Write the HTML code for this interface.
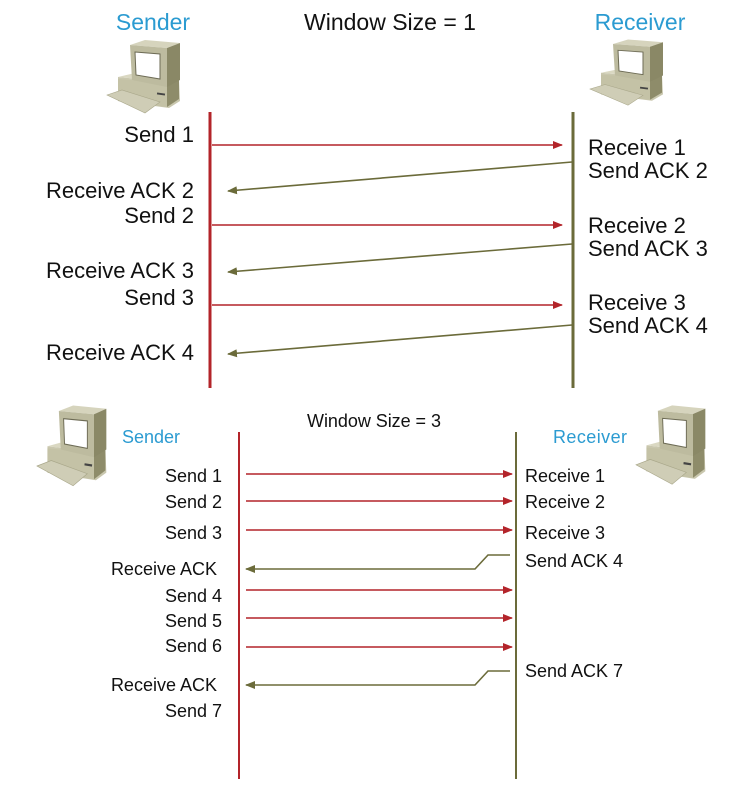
<!DOCTYPE html>
<html><head><meta charset="utf-8"><style>
html,body{margin:0;padding:0;background:#fff;}
svg{display:block;}
text{font-family:"Liberation Sans",sans-serif;}
</style></head><body>
<svg width="734" height="785" viewBox="0 0 734 785" xmlns="http://www.w3.org/2000/svg">
<defs>
<g id="pc">
  <polygon points="11,42 60,47 72,42 72,44 73,66 62,73 11,66" fill="#c9c7ae"/>
  <polygon points="11,42 28,38 72,42 60,47" fill="#dad8c2"/>
  <polygon points="60,47 72,42 72,64 60,72" fill="#8e8c6a"/>
  <polygon points="11,44 60,48 60,72 11,66" fill="#c4c2a6"/>
  <rect x="50" y="58" width="8" height="2" fill="#444" transform="rotate(8 54 59)"/>
  <polygon points="0,60 15,55 53,67 38,78" fill="#cfcdb6" stroke="#a9a78a" stroke-width="0.6"/>
  <polygon points="23,10 38,5 73,8 60,13" fill="#d6d4bd"/>
  <polygon points="23,10 60,13 60,52 25,45" fill="#bdbb9f"/>
  <polygon points="60,13 73,8 73,45 60,52" fill="#8a8866"/>
  <polygon points="28,17 53,19 53,44 29,40" fill="#fff" stroke="#6d6b55" stroke-width="1"/>
</g>
<marker id="ar" viewBox="0 0 10 10" refX="9" refY="5" markerWidth="10" markerHeight="10" markerUnits="userSpaceOnUse" orient="auto"><path d="M0,1 L10,5 L0,9 z" fill="#b3242a"/></marker>
<marker id="ag" viewBox="0 0 10 10" refX="9" refY="5" markerWidth="10" markerHeight="10" markerUnits="userSpaceOnUse" orient="auto"><path d="M0,1 L10,5 L0,9 z" fill="#6b6b3a"/></marker>
</defs>

<!-- TOP -->
<text x="153" y="30" font-size="23" fill="#2b9bd1" text-anchor="middle">Sender</text>
<text x="390" y="30" font-size="23" fill="#111" text-anchor="middle">Window Size = 1</text>
<text x="640" y="30" font-size="23" fill="#2b9bd1" text-anchor="middle">Receiver</text>
<use href="#pc" transform="translate(107,35)"/>
<use href="#pc" transform="translate(590,35) scale(1.0,0.9)"/>

<line x1="210" y1="112" x2="210" y2="388" stroke="#b3242a" stroke-width="3"/>
<line x1="573" y1="112" x2="573" y2="388" stroke="#6b6b3a" stroke-width="3"/>

<g stroke="#b3242a" stroke-width="1.6" marker-end="url(#ar)">
<line x1="212" y1="145" x2="562" y2="145"/>
<line x1="212" y1="225" x2="562" y2="225"/>
<line x1="212" y1="305" x2="562" y2="305"/>
</g>
<g stroke="#6b6b3a" stroke-width="1.6" marker-end="url(#ag)">
<line x1="572" y1="162" x2="228" y2="191"/>
<line x1="572" y1="244" x2="228" y2="272"/>
<line x1="572" y1="325" x2="228" y2="354"/>
</g>

<g font-size="22" fill="#111" text-anchor="end">
<text x="194" y="142">Send 1</text>
<text x="194" y="198">Receive ACK 2</text>
<text x="194" y="223">Send 2</text>
<text x="194" y="278">Receive ACK 3</text>
<text x="194" y="305">Send 3</text>
<text x="194" y="360">Receive ACK 4</text>
</g>
<g font-size="22" fill="#111">
<text x="588" y="155">Receive 1</text>
<text x="588" y="178">Send ACK 2</text>
<text x="588" y="233">Receive 2</text>
<text x="588" y="256">Send ACK 3</text>
<text x="588" y="310">Receive 3</text>
<text x="588" y="333">Send ACK 4</text>
</g>

<!-- BOTTOM -->
<text x="307" y="427" font-size="18" fill="#111" textLength="134">Window Size = 3</text>
<text x="122" y="443" font-size="18" fill="#2b9bd1">Sender</text>
<text x="553" y="443" font-size="18" fill="#2b9bd1" textLength="74">Receiver</text>
<use href="#pc" transform="translate(37,400) scale(0.95,1.1)"/>
<use href="#pc" transform="translate(636,400) scale(0.95,1.08)"/>

<line x1="239" y1="432" x2="239" y2="779" stroke="#b3242a" stroke-width="2"/>
<line x1="516" y1="432" x2="516" y2="779" stroke="#6b6b3a" stroke-width="2"/>

<g stroke="#b3242a" stroke-width="1.6" marker-end="url(#ar)">
<line x1="246" y1="474" x2="512" y2="474"/>
<line x1="246" y1="501" x2="512" y2="501"/>
<line x1="246" y1="530" x2="512" y2="530"/>
<line x1="246" y1="590" x2="512" y2="590"/>
<line x1="246" y1="618" x2="512" y2="618"/>
<line x1="246" y1="647" x2="512" y2="647"/>
</g>
<g stroke="#6b6b3a" stroke-width="1.6" fill="none" marker-end="url(#ag)">
<polyline points="510,555 488,555 475,569 246,569"/>
<polyline points="510,671 488,671 475,685 246,685"/>
</g>

<g font-size="18" fill="#111" text-anchor="end">
<text x="222" y="482">Send 1</text>
<text x="222" y="508">Send 2</text>
<text x="222" y="539">Send 3</text>
<text x="217" y="575">Receive ACK</text>
<text x="222" y="602">Send 4</text>
<text x="222" y="627">Send 5</text>
<text x="222" y="652">Send 6</text>
<text x="217" y="691">Receive ACK</text>
<text x="222" y="717">Send 7</text>
</g>
<g font-size="18" fill="#111">
<text x="525" y="482">Receive 1</text>
<text x="525" y="508">Receive 2</text>
<text x="525" y="539">Receive 3</text>
<text x="525" y="567">Send ACK 4</text>
<text x="525" y="677">Send ACK 7</text>
</g>
</svg>
</body></html>
